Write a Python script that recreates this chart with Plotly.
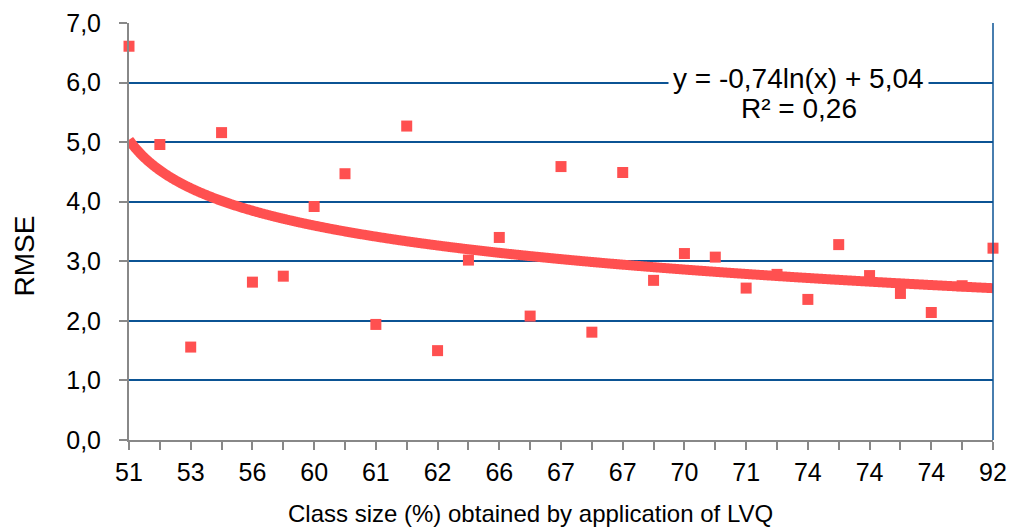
import numpy as np
import plotly.graph_objects as go

# --- data ---
x_labels = ["51", "", "53", "", "56", "", "60", "", "61", "", "62", "", "66", "", "67",
            "", "67", "", "70", "", "71", "", "74", "", "74", "", "74", "", "92"]
rmse = [6.61, 4.96, 1.56, 5.16, 2.65, 2.75, 3.92, 4.47, 1.94, 5.27,
        1.50, 3.02, 3.40, 2.08, 4.59, 1.81, 4.49, 2.68, 3.13, 3.07,
        2.55, 2.78, 2.36, 3.28, 2.76, 2.46, 2.14, 2.59, 3.22]
y_ticks = [0, 1, 2, 3, 4, 5, 6, 7]
trend_a = -0.74
trend_b = 5.04
r2 = 0.26

idx = list(range(1, len(rmse) + 1))
xt = np.linspace(1, len(rmse), 1200)
yt = trend_a * np.log(xt) + trend_b

RED = "#FF5050"
BLUE = "#0B5394"
GRAY = "#888888"
FONT = "Liberation Sans, Arial, sans-serif"

fig = go.Figure()
fig.add_trace(go.Scatter(x=idx, y=rmse, mode="markers",
                         marker=dict(symbol="square", size=11, color=RED),
                         showlegend=False, cliponaxis=False))
fig.add_trace(go.Scatter(x=xt, y=yt, mode="lines",
                         line=dict(color=RED, width=10, simplify=False),
                         showlegend=False))

eq_line = f"y = {trend_a:.2f}ln(x) + {trend_b:.2f}".replace(".", ",")
r2_line = f"R² = {r2:.2f}".replace(".", ",")
fig.add_annotation(
    xref="paper", yref="paper", x=0.775, y=0.868, xanchor="center", yanchor="middle",
    text=eq_line, showarrow=False, align="center", bgcolor="white",
    font=dict(family=FONT, size=28, color="black"), borderpad=4,
)
fig.add_annotation(
    xref="paper", yref="paper", x=0.775, y=0.796, xanchor="center", yanchor="middle",
    text=r2_line, showarrow=False, align="center",
    font=dict(family=FONT, size=28, color="black"),
)

# axis titles as annotations for exact placement
fig.add_annotation(
    xref="paper", yref="paper", x=-0.1215, y=0.44, xanchor="center", yanchor="middle",
    text="RMSE", textangle=-90, showarrow=False,
    font=dict(family=FONT, size=28, color="black"),
)
fig.add_annotation(
    xref="paper", yref="paper", x=0.4645, y=-0.176, xanchor="center", yanchor="middle",
    text="Class size (%) obtained by application of LVQ", showarrow=False,
    font=dict(family=FONT, size=24, color="black"),
)

# right border line in blue
fig.add_shape(type="line", xref="paper", yref="y", x0=1, x1=1, y0=0, y1=7,
              line=dict(color=BLUE, width=1.5))

fig.update_layout(
    width=1013, height=531,
    margin=dict(l=129, r=20, t=23, b=91),
    plot_bgcolor="white", paper_bgcolor="white",
    separators=",.",
    font=dict(family=FONT, size=22, color="black"),
    xaxis=dict(
        range=[1, len(rmse)], tickmode="array", tickvals=idx, ticktext=x_labels,
        showgrid=False, zeroline=False, showline=True, linecolor=GRAY, linewidth=2,
        ticks="outside", ticklen=8, tickwidth=2, tickcolor=GRAY,
        tickfont=dict(size=25), automargin=False, ticklabelstandoff=1,
    ),
    yaxis=dict(
        range=[0, 7], tickmode="array", tickvals=y_ticks,
        tickformat=".1f", showgrid=True, gridcolor=BLUE, gridwidth=1.5,
        zeroline=False, showline=True, linecolor=GRAY, linewidth=2,
        ticks="outside", ticklen=8, tickwidth=2, tickcolor=GRAY,
        tickfont=dict(size=25), automargin=False, ticklabelstandoff=13,
    ),
)

fig.write_html("out.html", config={"displayModeBar": False},
               post_script="document.body.style.margin='0';")
